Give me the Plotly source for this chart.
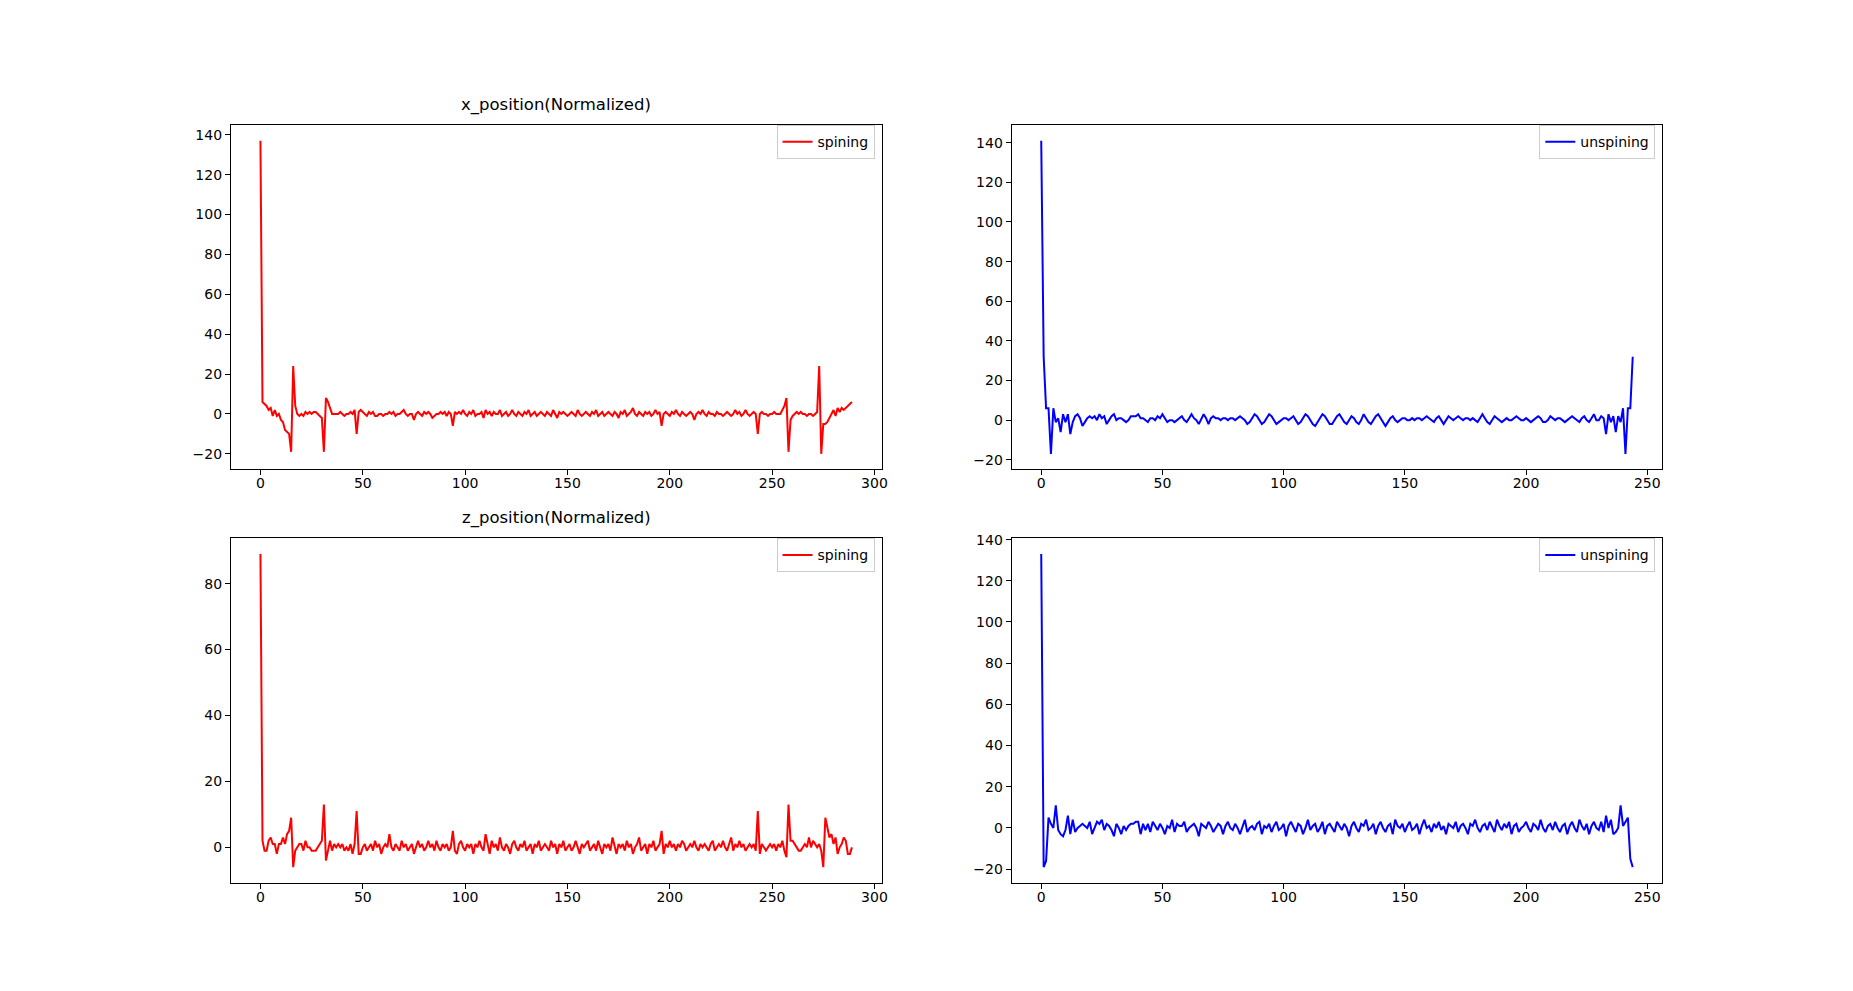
import plotly.graph_objects as go

# ---------------- data ----------------
spin_x = [
    137, 6, 5, 4, 2, 3, -1, 2, -1, 0,
    -3, -4, -8, -9, -10, -19, 24, 4, 0, -1,
    0, -1, 1, 0, 1, 0, 1, 1, 0, -1,
    -2, -19, 8, 6, 3, 0, 0, 0, 0, 1,
    0, -1, 0, 0, 1, 0, 2, -10, 1, 2,
    1, 0, -1, 1, 0, 1, -1, -1, 0, 0,
    -1, 0, 0, 1, 0, 1, -1, 0, 0, 1,
    2, 0, -1, 0, 0, -3, 0, 1, 0, -1,
    1, 0, 1, 0, -2, -1, 0, 0, 1, 0,
    1, -1, 1, 0, -6, 1, 0, 1, 0, 2,
    0, -1, 1, 0, 2, -1, 0, 0, 1, -2,
    2, 0, 1, -1, 1, 0, 0, 2, -1, 0,
    1, -1, 0, 2, 0, -1, 1, 0, -1, 1,
    0, 2, -1, 0, 1, -1, 0, 1, 0, -1,
    1, 0, -1, 2, 0, -2, 1, 0, 1, 0,
    -1, 0, 1, 0, -1, 2, 0, -1, 0, 1,
    0, -1, 1, 0, 2, -1, 0, 1, -1, 0,
    1, 0, -1, 1, 0, -2, 1, 0, 2, -1,
    0, 1, 3, 0, -1, 1, 0, -1, 1, 0,
    1, -1, 0, 2, 0, 1, -6, 0, 1, 0,
    -1, 1, 0, 2, 0, -1, 1, 0, -1, 0,
    1, 0, -3, 0, 1, 0, 2, 0, -1, 1,
    0, 0, -1, 1, 0, 0, -1, 0, 1, 0,
    -1, 0, 2, 0, 1, -1, 0, 2, 0, -1,
    0, 1, 0, -10, 0, 1, 0, 0, -1, 0,
    0, 1, 0, 0, 0, 2, 4, 8, -19, -3,
    -1, 0, 1, 0, 1, 0, 0, -1, 0, 0,
    -1, 0, 1, 24, -20, -5, -5, -4, -2, 0,
    2, -1, 3, 1, 3, 2, 3, 4, 5, 6,
]

unspin_x = [
    141, 32, 6, 6, -17, 6, -1, 1, -6, 3,
    -1, 3, -7, -1, 2, 3, 1, -3, -1, 1,
    2, 1, 2, 0, 3, 1, 2, -2, 0, 2,
    3, 0, 1, 1, 0, -1, 0, 2, 2, 2,
    3, 1, 1, 0, -1, 1, 1, 0, 2, 1,
    3, 1, -1, 0, 0, -1, 0, 1, 2, 0,
    -1, 1, 3, 1, 0, -2, 1, 3, 1, -2,
    1, 2, 1, 1, 0, 1, 1, 0, 1, 1,
    0, 1, 2, 1, 0, -2, -1, 1, 3, 2,
    0, -2, -1, 1, 3, 2, 0, -2, -1, 0,
    1, 1, 0, 1, 2, 0, -2, -1, 1, 3,
    2, 0, -2, -3, -1, 1, 3, 2, 0, -2,
    -2, 0, 2, 3, 1, -1, -2, 0, 2, 1,
    -1, -2, 0, 3, 1, -1, -2, 0, 2, 3,
    1, -1, -3, -1, 1, 2, 0, -1, 0, 1,
    1, 0, 0, 1, 0, 1, 1, 0, 1, 2,
    1, 0, -1, 1, 2, 0, -2, 0, 2, 1,
    0, 1, 2, 1, 0, 1, 1, 0, 1, 0,
    -1, 1, 3, 1, -1, -2, 0, 2, 1, 0,
    -1, 0, 1, 0, 0, 1, 2, 1, 0, 0,
    1, 0, -1, 0, 1, 2, 1, -1, -1, 0,
    2, 1, 0, 1, 1, 0, -1, 0, 1, 2,
    1, 0, -1, 1, 2, 0, -1, 1, 3, 0,
    0, 2, 1, -7, 3, -1, 2, -6, 2, -1,
    6, -17, 6, 6, 32,
]

spin_z = [
    89, 2, -1, -1, 2, 3, 1, 1, -2, 1,
    1, 3, 1, 4, 5, 9, -6, -1, 0, 1,
    1, -1, 2, 0, 0, -1, -1, -1, 0, 1,
    2, 13, -4, -1, 2, -1, 1, 0, 1, 0,
    1, -1, 0, -1, 1, -2, 1, 11, -2, -2,
    0, 1, -1, 0, 1, -1, 2, 0, 1, -2,
    0, 1, 0, 4, 0, -1, 1, 0, -1, 2,
    0, 1, -1, 0, 1, -2, 0, 2, 0, 1,
    -1, 0, 2, 0, 1, -1, 2, 0, -1, 1,
    0, 1, -1, 0, 5, -1, -2, 1, 2, 0,
    -1, 1, 0, 1, -2, 1, 0, 2, 0, -1,
    4, 1, -2, 2, 0, 1, -1, 3, 0, -1,
    1, 0, -2, 1, 2, 0, -1, 1, 0, 2,
    -1, 0, 1, -2, 1, 0, 2, -1, 0, 1,
    0, -1, 2, 0, 1, -2, 1, 0, 2, -1,
    0, 1, -1, 0, 2, 0, -2, 1, 0, 1,
    2, -1, 0, 1, -1, 2, 0, -2, 1, 0,
    1, -1, 3, 0, -2, 1, 0, 1, -1, 2,
    0, 1, -2, 0, 1, 3, -1, 0, 1, -2,
    1, 0, 2, -1, 0, 1, 5, -2, 1, 0,
    2, 0, 1, -1, 1, 0, 2, 1, -1, 0,
    1, 0, 2, 0, -1, 1, 0, 1, 0, -1,
    1, 2, -1, 0, 1, 0, 2, 0, -1, 1,
    3, -1, 1, 0, 2, 0, 1, -1, 0, 1,
    0, 1, -1, 11, -2, 1, 0, -1, 0, 1,
    0, 1, -1, 1, 0, 2, -1, -3, 13, 2,
    2, 1, 0, -1, -1, 0, 1, 0, 3, 0,
    2, 1, 0, 1, -1, -6, 9, 6, 3, 4,
    1, 3, -2, 0, 1, 3, 2, -2, -2, 0,
]

unspin_z = [
    133, -19, -16, 5, 2, 0, 11, -1, -3, -4,
    -1, 6, -3, 4, -2, 0, 1, 2, 1, 0,
    3, -3, 0, 3, 2, 4, -1, 2, 1, -1,
    -4, 2, 0, -3, 1, -1, 1, 2, 2, 3,
    3, -3, 2, -1, 2, -2, 3, 1, -1, 2,
    0, -3, 1, 0, 4, -2, 2, 1, 1, 3,
    -2, 0, 1, 2, 0, -4, 2, 1, 0, 3,
    1, -2, 0, 2, 1, -3, 1, 3, 0, -1,
    2, 0, -3, 1, 4, -2, 0, 1, -1, 2,
    3, -3, 1, 0, 2, -2, 1, 3, -1, 0,
    2, -4, 1, 3, 0, -2, 2, 1, -3, 0,
    4, -1, 1, 2, -2, 0, 3, -3, 1, 2,
    0, -2, 3, 1, -1, 2, 0, -4, 1, 3,
    0, -2, 2, 1, 4, -1, 0, 2, -3, 1,
    3, 0, -2, 1, 2, -3, 4, 1, 0, 2,
    -2, 1, 3, -1, 0, 2, -3, 1, 4, 0,
    1, -2, 2, 0, 3, -1, 1, -3, 2, 1,
    0, 3, -2, 1, 2, 0, -3, 2, 1, 4,
    0, -2, 1, 2, -1, 3, 0, -2, 4, 1,
    -1, 2, 0, 3, -3, 1, 2, -2, 0, 1,
    3, 0, -2, 2, 1, -1, 4, 0, -2, 1,
    2, -1, 3, 0, -2, 1, 2, -3, 1, 3,
    0, -2, 4, 1, -1, 2, -3, 1, 3, 0,
    -1, 3, -2, 6, 0, 4, -3, -2, 0, 11,
    1, 3, 5, -15, -19,
]

titles = ["x_position(Normalized)", "z_position(Normalized)"]
series_names = ["spining", "unspining"]
series_colors = ["red", "blue"]

# ---------------- layout geometry (matplotlib default subplot params) ----------------
W, H = 1853, 991
x_domains = [[0.125, 0.47727], [0.54773, 0.9]]
y_domains = [[0.53, 0.88], [0.11, 0.46]]

panels = [
    (spin_x, 0, 0, 0),
    (unspin_x, 0, 1, 1),
    (spin_z, 1, 0, 0),
    (unspin_z, 1, 1, 1),
]

FONT = "DejaVu Sans, Arial, sans-serif"

def auto_range(lo, hi):
    span = hi - lo
    return [lo - 0.05 * span, hi + 0.05 * span]

fig = go.Figure()
layout = dict(
    width=W, height=H,
    margin=dict(l=0, r=0, t=0, b=0),
    paper_bgcolor="white", plot_bgcolor="white",
    font=dict(family=FONT, size=14, color="black"),
    annotations=[],
)

for i, (vals, row, col, s) in enumerate(panels):
    n = i + 1
    xa = "xaxis" if n == 1 else f"xaxis{n}"
    ya = "yaxis" if n == 1 else f"yaxis{n}"
    xref = "x" if n == 1 else f"x{n}"
    yref = "y" if n == 1 else f"y{n}"
    leg = "legend" if n == 1 else f"legend{n}"
    xs = list(range(len(vals)))
    fig.add_trace(go.Scatter(
        x=xs, y=vals, mode="lines", name=series_names[s],
        line=dict(color=series_colors[s], width=2),
        xaxis=xref, yaxis=yref, legend=leg, showlegend=True,
    ))
    axis_common = dict(
        showline=True, linecolor="black", linewidth=1, mirror=True,
        showgrid=False, zeroline=False,
        ticks="outside", ticklen=5, tickwidth=1, tickcolor="black",
        tickfont=dict(family=FONT, size=14, color="black"),
    )
    layout[xa] = dict(
        domain=x_domains[col], anchor=yref,
        range=auto_range(0, len(vals) - 1), dtick=50, tick0=0,
        ticklabelstandoff=-4,
        **axis_common,
    )
    layout[ya] = dict(
        domain=y_domains[row], anchor=xref,
        range=auto_range(min(vals), max(vals)), dtick=20, tick0=0,
        **axis_common,
    )
    layout[leg] = dict(
        x=x_domains[col][1] - 7 / W, y=y_domains[row][1],
        xanchor="right", yanchor="top",
        xref="paper", yref="paper",
        bgcolor="rgba(255,255,255,0.8)", bordercolor="#cccccc", borderwidth=1,
        font=dict(family=FONT, size=14, color="black"),
        itemwidth=30,
    )
    if col == 0:
        layout["annotations"].append(dict(
            text=titles[row], x=sum(x_domains[0]) / 2, y=y_domains[row][1],
            xref="paper", yref="paper", xanchor="center", yanchor="bottom",
            yshift=8, showarrow=False,
            font=dict(family=FONT, size=16.5, color="black"),
        ))

fig.update_layout(**layout)
fig.write_html("out.html")
